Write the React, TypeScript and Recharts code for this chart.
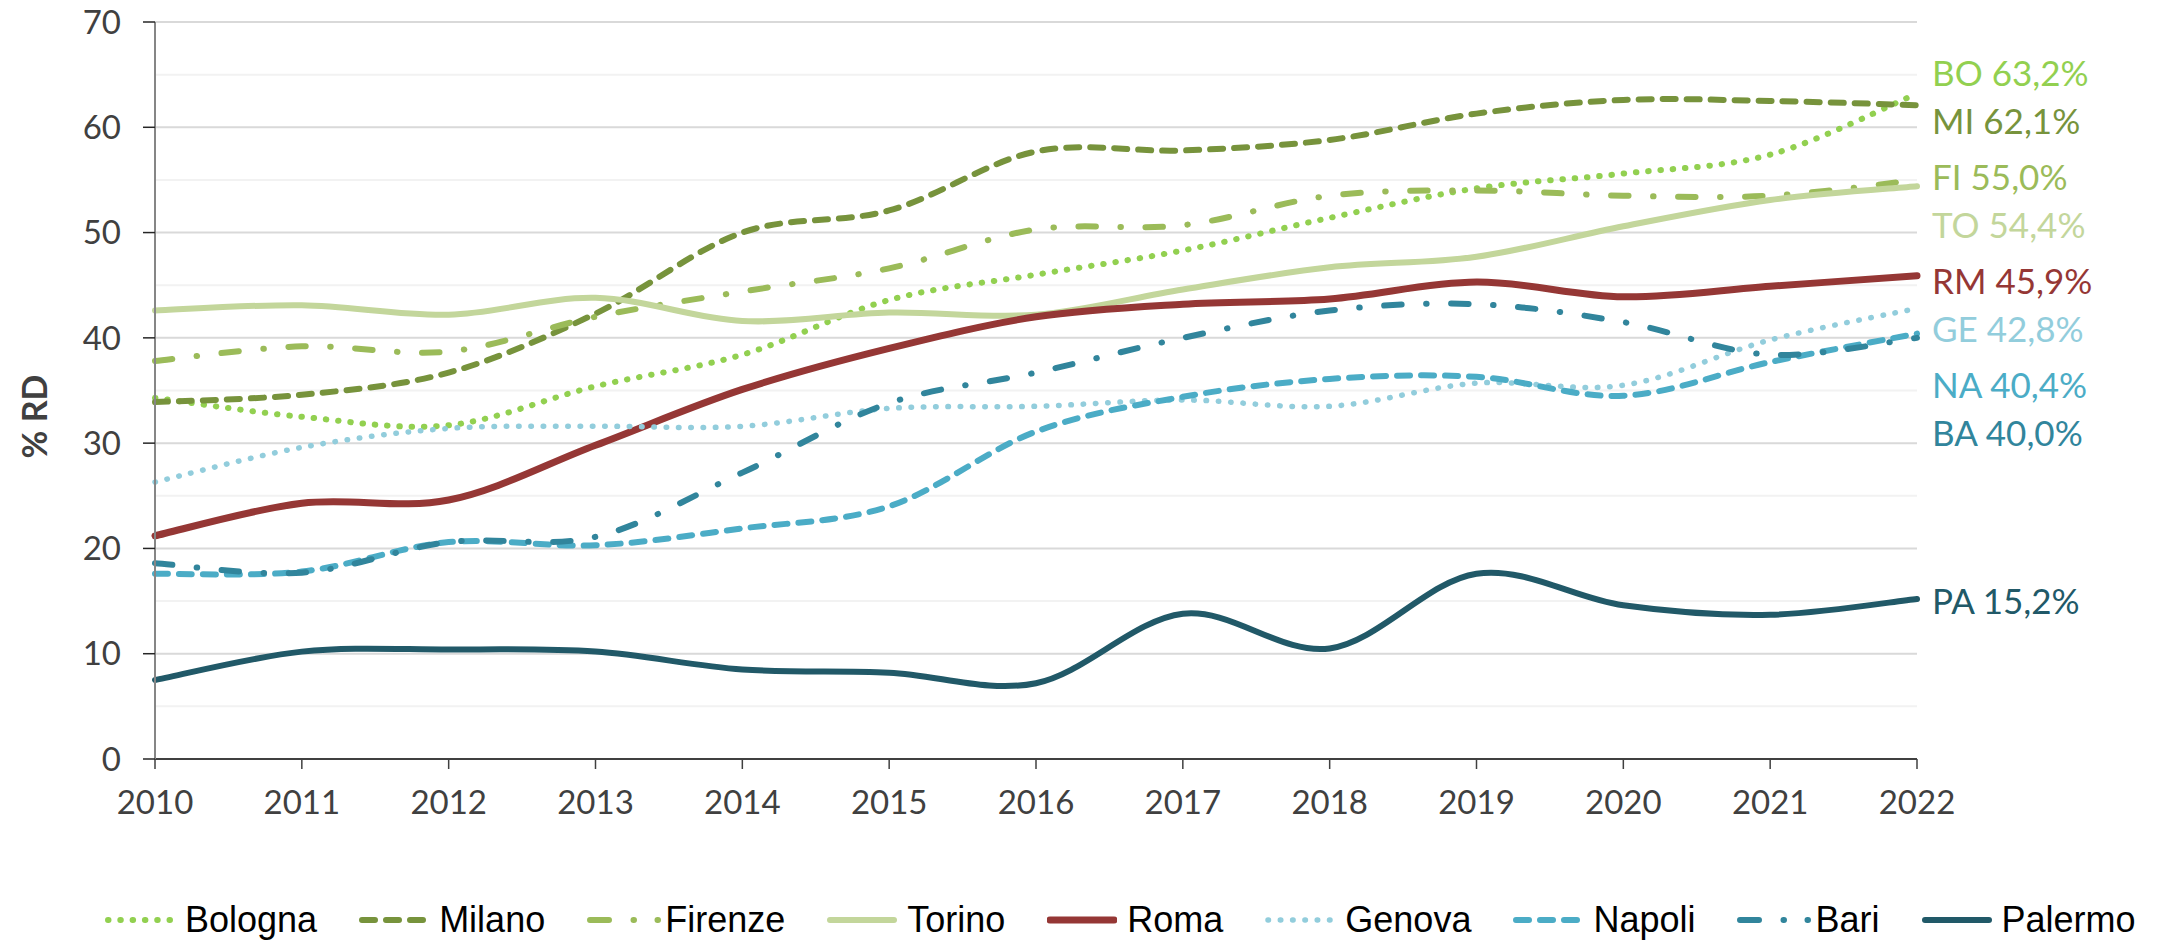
import React from 'react';
import { LineChart, Line, XAxis, YAxis, CartesianGrid, ReferenceLine, Legend, LabelList, Label } from 'recharts';

const years = [2010, 2011, 2012, 2013, 2014, 2015, 2016, 2017, 2018, 2019, 2020, 2021, 2022];

const bologna = [34.3, 32.5, 31.7, 35.4, 38.4, 43.6, 46.0, 48.3, 51.4, 54.2, 55.6, 57.4, 63.2];
const milano = [33.9, 34.6, 36.7, 42.3, 50.0, 52.1, 57.7, 57.8, 58.8, 61.3, 62.6, 62.5, 62.1];
const firenze = [37.8, 39.2, 38.7, 42.0, 44.4, 46.6, 50.3, 50.7, 53.5, 54.0, 53.5, 53.5, 55.0];
const torino = [42.6, 43.1, 42.2, 43.8, 41.6, 42.4, 42.2, 44.6, 46.7, 47.7, 50.6, 53.1, 54.4];
const roma = [21.2, 24.3, 24.6, 29.8, 35.1, 39.0, 42.0, 43.2, 43.7, 45.3, 43.9, 44.9, 45.9];
const genova = [26.3, 29.6, 31.4, 31.6, 31.6, 33.3, 33.5, 34.1, 33.5, 35.7, 35.5, 39.8, 42.8];
const napoli = [17.6, 17.8, 20.6, 20.3, 21.9, 24.0, 31.1, 34.4, 36.1, 36.3, 34.5, 37.7, 40.4];
const bari = [18.6, 17.7, 20.6, 21.1, 27.2, 33.8, 36.7, 40.0, 42.6, 43.2, 41.5, 38.4, 40.0];
const palermo = [7.5, 10.2, 10.4, 10.2, 8.5, 8.2, 7.2, 13.8, 10.5, 17.6, 14.6, 13.7, 15.2];

const yTicks = [0, 10, 20, 30, 40, 50, 60, 70];
const minorTicks = [5, 15, 25, 35, 45, 55, 65];

const DOT = '0.5 11.8';
const DASH = '13 11';
const DASHDOT = '17.5 24.5 0.5 24.5';
// legend swatch: dash, dot, dot
const DASHDOT_KEY = '19 24.5 0.5 23.5 0.5 100';

// styling + end-label nudges (px), kept apart from the values
const series = [
  { key: 'Bologna', abbr: 'BO', values: bologna, color: '#92D050', width: 6, dash: DOT, keyDash: DOT, labelDy: -22 },
  { key: 'Milano', abbr: 'MI', values: milano, color: '#77933C', width: 6, dash: DASH, keyDash: DASH, labelDy: 15 },
  { key: 'Firenze', abbr: 'FI', values: firenze, color: '#9BBB59', width: 6, dash: DASHDOT, keyDash: DASHDOT_KEY, labelDy: -4 },
  { key: 'Torino', abbr: 'TO', values: torino, color: '#C3D69B', width: 6, dash: undefined, keyDash: undefined, labelDy: 38 },
  { key: 'Roma', abbr: 'RM', values: roma, color: '#953735', width: 7, dash: undefined, keyDash: undefined, labelDy: 4 },
  { key: 'Genova', abbr: 'GE', values: genova, color: '#92CDDC', width: 5.5, dash: DOT, keyDash: DOT, labelDy: 20 },
  { key: 'Napoli', abbr: 'NA', values: napoli, color: '#4BACC6', width: 6, dash: DASH, keyDash: DASH, labelDy: 50 },
  { key: 'Bari', abbr: 'BA', values: bari, color: '#31859C', width: 6, dash: DASHDOT, keyDash: DASHDOT_KEY, labelDy: 94 },
  { key: 'Palermo', abbr: 'PA', values: palermo, color: '#215968', width: 6, dash: undefined, keyDash: undefined, labelDy: 1 },
];

const data = years.map((year, i) => {
  const row: any = { year };
  series.forEach((s) => {
    row[s.key] = s.values[i];
  });
  return row;
});

// Excel-like smoothed line (Catmull-Rom through the points)
const excelSmooth = (context: any) => {
  let pts: number[][] = [];
  return {
    areaStart() {},
    areaEnd() {},
    lineStart() {
      pts = [];
    },
    point(x: number, y: number) {
      pts.push([+x, +y]);
    },
    lineEnd() {
      if (!pts.length) return;
      context.moveTo(pts[0][0], pts[0][1]);
      for (let i = 0; i < pts.length - 1; i++) {
        const p0 = pts[i - 1] || pts[i];
        const p1 = pts[i];
        const p2 = pts[i + 1];
        const p3 = pts[i + 2] || p2;
        context.bezierCurveTo(
          p1[0] + (p2[0] - p0[0]) / 6,
          p1[1] + (p2[1] - p0[1]) / 6,
          p2[0] - (p3[0] - p1[0]) / 6,
          p2[1] - (p3[1] - p1[1]) / 6,
          p2[0],
          p2[1]
        );
      }
    },
  };
};

const fmt = (v: number) => v.toFixed(1).replace('.', ',') + '%';

const CustomLegend = () => (
  <div style={{ display: 'flex', alignItems: 'center', paddingLeft: 105, height: 50, fontFamily: '"Liberation Sans", Arial, sans-serif', fontSize: 36, color: '#000' }}>
    {series.map((s) => {
      const dd = s.keyDash === DASHDOT_KEY;
      const w = dd ? 74 : 70;
      return (
        <div key={s.key} style={{ display: 'flex', alignItems: 'center', marginRight: 42 }}>
          <svg width={w} height={20} style={{ marginRight: dd ? 4 : 10 }}>
            <line x1={3} y1={10} x2={w - 3} y2={10} stroke={s.color} strokeWidth={s.width} strokeDasharray={s.keyDash} strokeLinecap="round" />
          </svg>
          <span>{s.key}</span>
        </div>
      );
    })}
  </div>
);

export default function App() {
  return (
    <div style={{ position: 'absolute', left: 0, top: 0, width: 2159, height: 943, background: '#fff', fontFamily: 'Lato, sans-serif' }}>
      <LineChart width={2159} height={943} data={data} margin={{ top: 22, right: 242, left: 0, bottom: 124 }}>
        <CartesianGrid vertical={false} stroke="#d9d9d9" strokeWidth={2} />
        {minorTicks.map((v) => (
          <ReferenceLine key={v} y={v} stroke="#f2f2f2" strokeWidth={2} />
        ))}
        <XAxis
          dataKey="year"
          height={60}
          padding={{ left: 0, right: 0 }}
          tickSize={10}
          tickMargin={22}
          axisLine={{ stroke: '#404040', strokeWidth: 2 }}
          tickLine={{ stroke: '#404040', strokeWidth: 1.5 }}
          tick={{ fill: '#404040', fontSize: 33 }}
          interval={0}
        />
        <YAxis
          width={155}
          domain={[0, 70]}
          ticks={yTicks}
          tickSize={12}
          tickMargin={22}
          axisLine={{ stroke: '#868686', strokeWidth: 2 }}
          tickLine={{ stroke: '#262626', strokeWidth: 1.5 }}
          tick={{ fill: '#404040', fontSize: 33 }}
        >
          <Label
            content={({ viewBox }: any) => {
              const cx = viewBox.x + 33;
              const cy = viewBox.y + viewBox.height / 2 + 26;
              return (
                <text x={cx} y={cy} transform={`rotate(-90 ${cx} ${cy})`} textAnchor="middle" dominantBaseline="central" fontSize={34} fontWeight={700} fill="#404040">
                  % RD
                </text>
              );
            }}
          />
        </YAxis>
        <Legend layout="horizontal" verticalAlign="middle" align="center" content={() => <CustomLegend />} wrapperStyle={{ top: 895, left: 0, width: 2159 }} />
        {series.map((s) => (
          <Line
            key={s.key}
            dataKey={s.key}
            type={excelSmooth as any}
            stroke={s.color}
            strokeWidth={s.width}
            strokeDasharray={s.dash}
            strokeLinecap="round"
            dot={false}
            activeDot={false}
            isAnimationActive={false}
          >
            <LabelList
              dataKey={s.key}
              content={(p: any) => {
                if (p.index !== years.length - 1) return null;
                return (
                  <text x={p.x + 15} y={p.y + s.labelDy} dominantBaseline="central" fontSize={35} fill={s.color}>
                    {s.abbr} {fmt(p.value)}
                  </text>
                );
              }}
            />
          </Line>
        ))}
      </LineChart>
    </div>
  );
}
